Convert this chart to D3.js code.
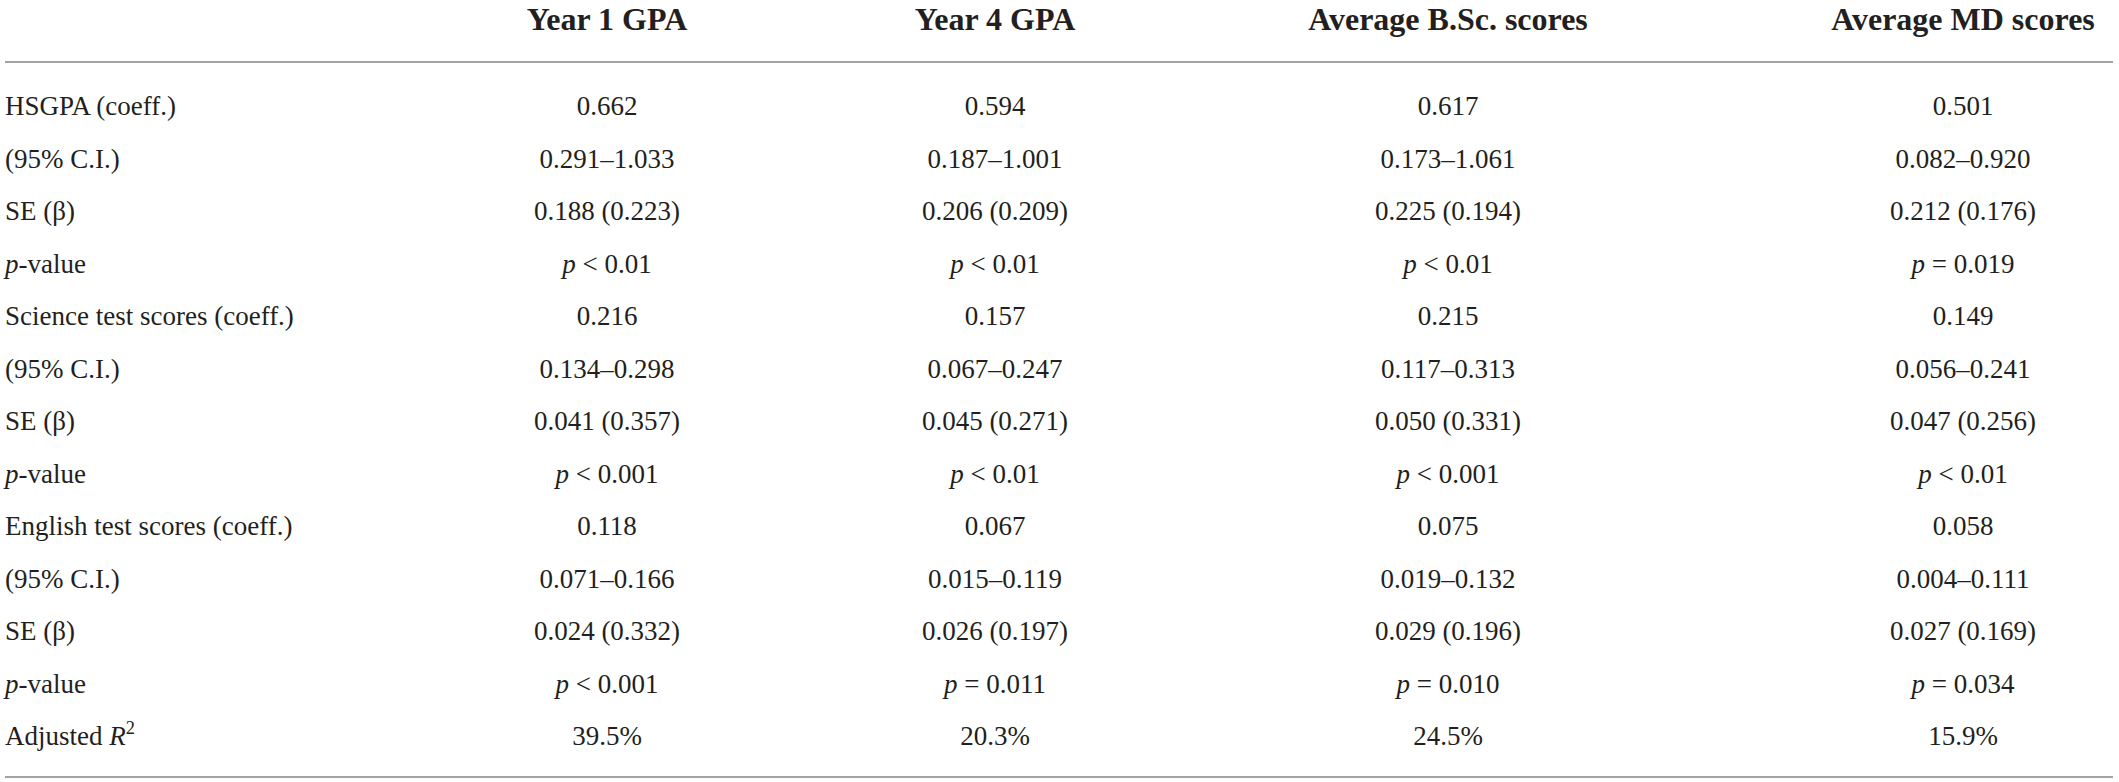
<!DOCTYPE html>
<html>
<head>
  <meta charset="utf-8"/>
  <title>Regression table</title>
  <style>
    body { margin: 0; background: #fff; }
    svg text { font-family: "Liberation Serif", "DejaVu Serif", serif; fill: #231f20; }
  </style>
</head>
<body>
  <div id="table"></div>
  <script src="https://d3js.org/d3.v7.min.js"></script>
  <script>

  // column headers
  var columns = ["Year 1 GPA", "Year 4 GPA", "Average B.Sc. scores", "Average MD scores"];

  // row labels
  var rowLabels = [
    "HSGPA (coeff.)", "(95% C.I.)", "SE (β)", "p-value",
    "Science test scores (coeff.)", "(95% C.I.)", "SE (β)", "p-value",
    "English test scores (coeff.)", "(95% C.I.)", "SE (β)", "p-value",
    "Adjusted R2"
  ];

  // one array per column
  var year1 = ["0.662", "0.291–1.033", "0.188 (0.223)", "p < 0.01",
               "0.216", "0.134–0.298", "0.041 (0.357)", "p < 0.001",
               "0.118", "0.071–0.166", "0.024 (0.332)", "p < 0.001",
               "39.5%"];
  var year4 = ["0.594", "0.187–1.001", "0.206 (0.209)", "p < 0.01",
               "0.157", "0.067–0.247", "0.045 (0.271)", "p < 0.01",
               "0.067", "0.015–0.119", "0.026 (0.197)", "p = 0.011",
               "20.3%"];
  var bsc = ["0.617", "0.173–1.061", "0.225 (0.194)", "p < 0.01",
             "0.215", "0.117–0.313", "0.050 (0.331)", "p < 0.001",
             "0.075", "0.019–0.132", "0.029 (0.196)", "p = 0.010",
             "24.5%"];
  var md = ["0.501", "0.082–0.920", "0.212 (0.176)", "p = 0.019",
            "0.149", "0.056–0.241", "0.047 (0.256)", "p < 0.01",
            "0.058", "0.004–0.111", "0.027 (0.169)", "p = 0.034",
            "15.9%"];

  var values = [year1, year4, bsc, md];

  var width = 2119, height = 782;

  var svg = d3.select("#table").append("svg")
    .attr("width", width)
    .attr("height", height);

  // column centres
  var x = d3.scaleOrdinal()
    .domain(columns)
    .range([607, 995, 1448, 1963]);

  // row centres
  var y = d3.scaleLinear()
    .domain([0, rowLabels.length - 1])
    .range([106, 736]);

  var bodySize = 27;

  // header
  svg.selectAll(".head")
    .data(columns)
    .enter().append("text")
    .attr("class", "head")
    .attr("x", function(d){ return x(d); })
    .attr("y", 30)
    .attr("text-anchor", "middle")
    .attr("font-weight", "bold")
    .attr("font-size", 32)
    .text(function(d){ return d; });

  // rules
  svg.selectAll(".rule")
    .data([62, 777])
    .enter().append("line")
    .attr("class", "rule")
    .attr("x1", 5)
    .attr("x2", 2113)
    .attr("y1", function(d){ return d; })
    .attr("y2", function(d){ return d; })
    .attr("stroke", "#a3a3a3")
    .attr("stroke-width", 2);

  // writes a cell, putting p and R in italics
  function fillCell(sel, s){
    if(s.indexOf("p ") == 0 || s.indexOf("p-") == 0){
      sel.append("tspan").attr("font-style", "italic").text("p");
      sel.append("tspan").text(s.slice(1));
    }
    else if(s == "Adjusted R2"){
      sel.append("tspan").text("Adjusted ");
      sel.append("tspan").attr("font-style", "italic").text("R");
      sel.append("tspan").attr("font-size", bodySize * 0.68).attr("dy", -11).text("2");
    }
    else{
      sel.text(s);
    }
  }

  // row labels
  svg.selectAll(".label")
    .data(rowLabels)
    .enter().append("text")
    .attr("class", "label")
    .attr("x", 5)
    .attr("y", function(d, i){ return y(i) + 9; })
    .attr("font-size", bodySize)
    .each(function(d){ fillCell(d3.select(this), d); });

  // body cells
  columns.forEach(function(c, j){
    svg.selectAll(".cell" + j)
      .data(values[j])
      .enter().append("text")
      .attr("class", "cell" + j)
      .attr("x", x(c))
      .attr("y", function(d, i){ return y(i) + 9; })
      .attr("text-anchor", "middle")
      .attr("font-size", bodySize)
      .each(function(d){ fillCell(d3.select(this), d); });
  });

  </script>
</body>
</html>
